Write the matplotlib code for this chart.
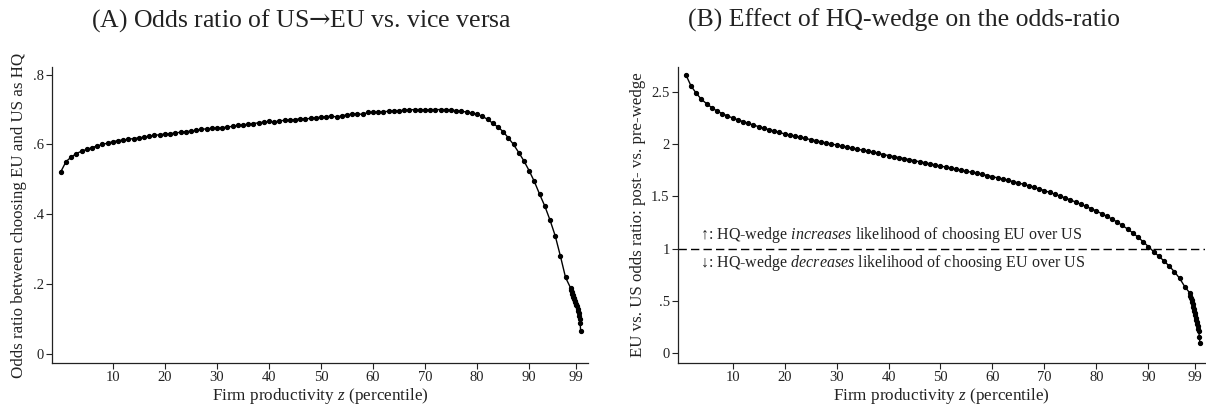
import matplotlib
matplotlib.use("Agg")
import matplotlib.pyplot as plt

plt.rcParams['font.family'] = ['Liberation Serif', 'DejaVu Serif']
plt.rcParams['mathtext.fontset'] = 'custom'
plt.rcParams['mathtext.rm'] = 'Liberation Serif'
plt.rcParams['mathtext.it'] = 'Liberation Serif:italic'
plt.rcParams['mathtext.sf'] = 'DejaVu Serif'

# percentiles on the x axis: whole percentiles, then a fine grid in the top 2%
pct_fine = [98.0, 98.1, 98.2, 98.3, 98.4, 98.5, 98.6, 98.7, 98.8, 98.9,
            99.0, 99.1, 99.2, 99.3, 99.4, 99.5, 99.6, 99.7, 99.8, 99.9]
pct_left = list(range(0, 98)) + pct_fine
pct_right = list(range(1, 98)) + pct_fine

# panel A: odds ratio US->EU vs EU->US
odds_coarse = [0.522, 0.551, 0.564, 0.574, 0.581, 0.586, 0.591, 0.596, 0.600, 0.604,
               0.608, 0.611, 0.613, 0.615, 0.617, 0.619, 0.621, 0.624, 0.626, 0.628,
               0.630, 0.631, 0.633, 0.635, 0.637, 0.638, 0.641, 0.643, 0.645, 0.646,
               0.647, 0.648, 0.650, 0.652, 0.655, 0.656, 0.658, 0.660, 0.662, 0.664,
               0.666, 0.664, 0.668, 0.669, 0.670, 0.671, 0.674, 0.673, 0.675, 0.677,
               0.678, 0.680, 0.681, 0.679, 0.682, 0.685, 0.687, 0.688, 0.686, 0.692,
               0.692, 0.693, 0.694, 0.695, 0.697, 0.697, 0.698, 0.699, 0.700, 0.700,
               0.699, 0.700, 0.700, 0.700, 0.700, 0.698, 0.697, 0.695, 0.693, 0.690,
               0.686, 0.681, 0.672, 0.661, 0.650, 0.637, 0.619, 0.600, 0.577, 0.553,
               0.525, 0.494, 0.458, 0.424, 0.384, 0.339, 0.281, 0.219]
odds_fine = [0.188, 0.182, 0.177, 0.172, 0.168, 0.164, 0.160, 0.156, 0.152, 0.148,
             0.144, 0.140, 0.136, 0.130, 0.124, 0.118, 0.110, 0.100, 0.090, 0.066]
odds_ratio = odds_coarse + odds_fine

# panel B: post- vs pre-wedge odds ratio
effect_coarse = [2.664, 2.556, 2.486, 2.428, 2.386, 2.348, 2.316, 2.291, 2.269, 2.250,
                 2.232, 2.215, 2.198, 2.182, 2.167, 2.152, 2.138, 2.125, 2.112, 2.097,
                 2.087, 2.076, 2.065, 2.054, 2.043, 2.032, 2.021, 2.011, 2.001, 1.991,
                 1.981, 1.971, 1.961, 1.951, 1.941, 1.931, 1.921, 1.910, 1.900, 1.890,
                 1.880, 1.871, 1.861, 1.851, 1.841, 1.831, 1.821, 1.811, 1.800, 1.790,
                 1.780, 1.770, 1.760, 1.750, 1.740, 1.730, 1.720, 1.710, 1.699, 1.688,
                 1.677, 1.665, 1.653, 1.641, 1.628, 1.615, 1.601, 1.587, 1.571, 1.555,
                 1.538, 1.521, 1.503, 1.485, 1.466, 1.446, 1.425, 1.404, 1.382, 1.360,
                 1.335, 1.310, 1.284, 1.254, 1.222, 1.188, 1.151, 1.110, 1.066, 1.020,
                 0.972, 0.928, 0.883, 0.834, 0.780, 0.717, 0.637]
effect_fine = [0.574, 0.552, 0.530, 0.509, 0.488, 0.467, 0.446, 0.425, 0.404, 0.383,
               0.362, 0.341, 0.320, 0.299, 0.278, 0.257, 0.236, 0.210, 0.160, 0.101]
wedge_effect = effect_coarse + effect_fine

xticks = [10, 20, 30, 40, 50, 60, 70, 80, 90, 99]
yticks_left = [0, 0.2, 0.4, 0.6, 0.8]
ylabels_left = ['0', '.2', '.4', '.6', '.8']
yticks_right = [0, 0.5, 1, 1.5, 2, 2.5]
ylabels_right = ['0', '.5', '1', '1.5', '2', '2.5']

fig = plt.figure(figsize=(12.06, 4.04), dpi=100)
ax1 = fig.add_axes([0.0431, 0.1015, 0.4444, 0.7327])
ax2 = fig.add_axes([0.5622, 0.1015, 0.4370, 0.7327])

def style(ax, yticks, ylabels):
    for s in ['top', 'right']:
        ax.spines[s].set_visible(False)
    for s in ['left', 'bottom']:
        ax.spines[s].set_linewidth(0.9)
        ax.spines[s].set_color('#222222')
    ax.set_xticks(xticks)
    ax.set_xticklabels([str(t) for t in xticks])
    ax.set_yticks(yticks)
    ax.set_yticklabels(ylabels)
    ax.tick_params(axis='both', direction='out', length=4, width=0.8,
                   labelsize=10.5, color='#222222', labelcolor='#222222', pad=2)
    ax.set_xlabel(r'Firm productivity $\it{z}$ (percentile)', fontsize=12.3,
                  color='#222222', labelpad=1)

ax1.plot(pct_left, odds_ratio, color='black', lw=1, marker='o', markersize=2.8)
ax1.set_xlim(-1.7, 101.3)
ax1.set_ylim(-0.026, 0.822)
style(ax1, yticks_left, ylabels_left)
ax1.set_ylabel('Odds ratio between choosing EU and US as HQ', fontsize=12.2,
               color='#222222', labelpad=4)

ax2.axhline(1, color='black', lw=1, ls=(0, (6, 3)))
ax2.plot(pct_right, wedge_effect, color='black', lw=1, marker='o', markersize=2.8)
ax2.set_xlim(-0.5, 100.9)
ax2.set_ylim(-0.093, 2.737)
style(ax2, yticks_right, ylabels_right)
ax2.set_ylabel('EU vs. US odds ratio: post- vs. pre-wedge', fontsize=12.2,
               color='#222222', labelpad=4)
ax2.text(3.7, 1.13, r'↑: HQ-wedge $\it{increases}$ likelihood of choosing EU over US',
         fontsize=11.5, va='center', ha='left', color='#222222')
ax2.text(3.7, 0.86, r'↓: HQ-wedge $\it{decreases}$ likelihood of choosing EU over US',
         fontsize=11.5, va='center', ha='left', color='#222222')

fig.text(0.25, 0.95, r'(A) Odds ratio of US$\mathsf{→}$EU vs. vice versa', fontsize=18.5,
         ha='center', va='center', color='#222222')
fig.text(0.75, 0.95, '(B) Effect of HQ-wedge on the odds-ratio', fontsize=18.5,
         ha='center', va='center', color='#222222')

fig.savefig('out.png', dpi=100)
